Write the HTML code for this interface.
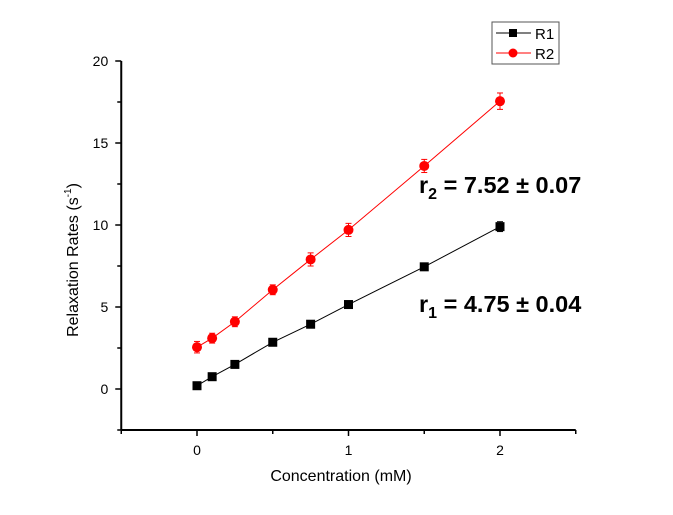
<!DOCTYPE html>
<html><head><meta charset="utf-8"><style>
body{margin:0;background:#fff;}
svg{display:block;font-family:"Liberation Sans",Arial,sans-serif;}
</style></head><body>
<svg id="chart" width="673" height="515" viewBox="0 0 673 515">
<rect width="673" height="515" fill="#fff"/>
<g id="axes"></g>
<g id="series"></g>
<text transform="translate(78,260) rotate(-90)" text-anchor="middle" font-size="16">Relaxation Rates (s<tspan font-size="10" dy="-7">-1</tspan><tspan dy="7">)</tspan></text>
<text x="341" y="481" text-anchor="middle" font-size="16">Concentration (mM)</text>
<text x="419" y="193" font-size="23.5" font-weight="bold">r<tspan font-size="16" dy="6">2</tspan><tspan dy="-6"> = 7.52 ± 0.07</tspan></text>
<text x="419" y="312" font-size="23.5" font-weight="bold">r<tspan font-size="16" dy="6">1</tspan><tspan dy="-6"> = 4.75 ± 0.04</tspan></text>
<g>
<rect x="492" y="22" width="67" height="42" fill="#fff" stroke="#555" stroke-width="1"/>
<line x1="496" y1="33" x2="531" y2="33" stroke="#000"/>
<rect x="509" y="29" width="8" height="8" fill="#000"/>
<text x="535" y="39" font-size="15">R1</text>
<line x1="496" y1="53" x2="531" y2="53" stroke="#f00"/>
<circle cx="513" cy="53" r="4.5" fill="#f00"/>
<text x="535" y="59" font-size="15">R2</text>
</g>
</svg>
<script>
const conc = [0, 0.1, 0.25, 0.5, 0.75, 1, 1.5, 2];
const r1Values = [0.2, 0.75, 1.5, 2.85, 3.95, 5.15, 7.45, 9.9];
const r1Errors = [0.1, 0.1, 0.1, 0.1, 0.1, 0.1, 0.15, 0.3];
const r2Values = [2.55, 3.1, 4.1, 6.05, 7.9, 9.7, 13.6, 17.55];
const r2Errors = [0.35, 0.3, 0.3, 0.3, 0.4, 0.4, 0.4, 0.5];
const xTicks = [0, 1, 2];
const yTicks = [0, 5, 10, 15, 20];
const NS = "http://www.w3.org/2000/svg";
const X = v => 197 + v * 151.5;
const Y = v => 389 - v * 16.4;
function mk(tag, attrs, parent){const e=document.createElementNS(NS,tag);for(const k in attrs)e.setAttribute(k,attrs[k]);parent.appendChild(e);return e;}
const ax = document.getElementById('axes');
const sr = document.getElementById('series');
const xl = mk('line',{x1:X(-0.5),y1:Y(-2.5),x2:X(2.5),y2:Y(-2.5),stroke:'#000','stroke-width':2},ax);


const yl = mk('line',{x1:X(-0.5),y1:Y(-2.5),x2:X(-0.5),y2:Y(20),stroke:'#000','stroke-width':2},ax);


for(let v=-0.5; v<=2.5; v+=0.5){
  const major = xTicks.includes(v);
  mk('line',{x1:X(v),y1:Y(-2.5),x2:X(v),y2:Y(-2.5)+(major?6:4),stroke:'#000','stroke-width':1.5},ax);
}
xTicks.forEach(v=>{
  const t=mk('text',{x:X(v),y:Y(-2.5)+25,'text-anchor':'middle','font-size':14},ax);
  t.textContent=v;
  
  
});
for(let v=-2.5; v<=20; v+=2.5){
  const major = yTicks.includes(v);
  mk('line',{x1:X(-0.5),y1:Y(v),x2:X(-0.5)-(major?6:4),y2:Y(v),stroke:'#000','stroke-width':1.5},ax);
}
yTicks.forEach(v=>{
  const t=mk('text',{x:X(-0.5)-13,y:Y(v)+5,'text-anchor':'end','font-size':14},ax);
  t.textContent=v;
  
  
});
function series(vals, errs, color, shape, name){
  const p = mk('polyline',{points:conc.map((c,i)=>X(c)+','+Y(vals[i])).join(' '),fill:'none',stroke:color,'stroke-width':1},sr);
  
  
  conc.forEach((c,i)=>{
    const x=X(c), y1=Y(vals[i]+errs[i]), y2=Y(vals[i]-errs[i]);
    mk('line',{x1:x,y1:y1,x2:x,y2:y2,stroke:color,'stroke-width':1},sr);
    mk('line',{x1:x-3,y1:y1,x2:x+3,y2:y1,stroke:color,'stroke-width':1},sr);
    mk('line',{x1:x-3,y1:y2,x2:x+3,y2:y2,stroke:color,'stroke-width':1},sr);
    let m;
    if(shape==='sq') m=mk('rect',{x:X(c)-4.5,y:Y(vals[i])-4.5,width:9,height:9,fill:color},sr);
    else m=mk('circle',{cx:X(c),cy:Y(vals[i]),r:5,fill:color},sr);
    
    
  });
}
series(r1Values, r1Errors, '#000', 'sq', 'r1');
series(r2Values, r2Errors, '#f00', 'circ', 'r2');
</script>
</body></html>
